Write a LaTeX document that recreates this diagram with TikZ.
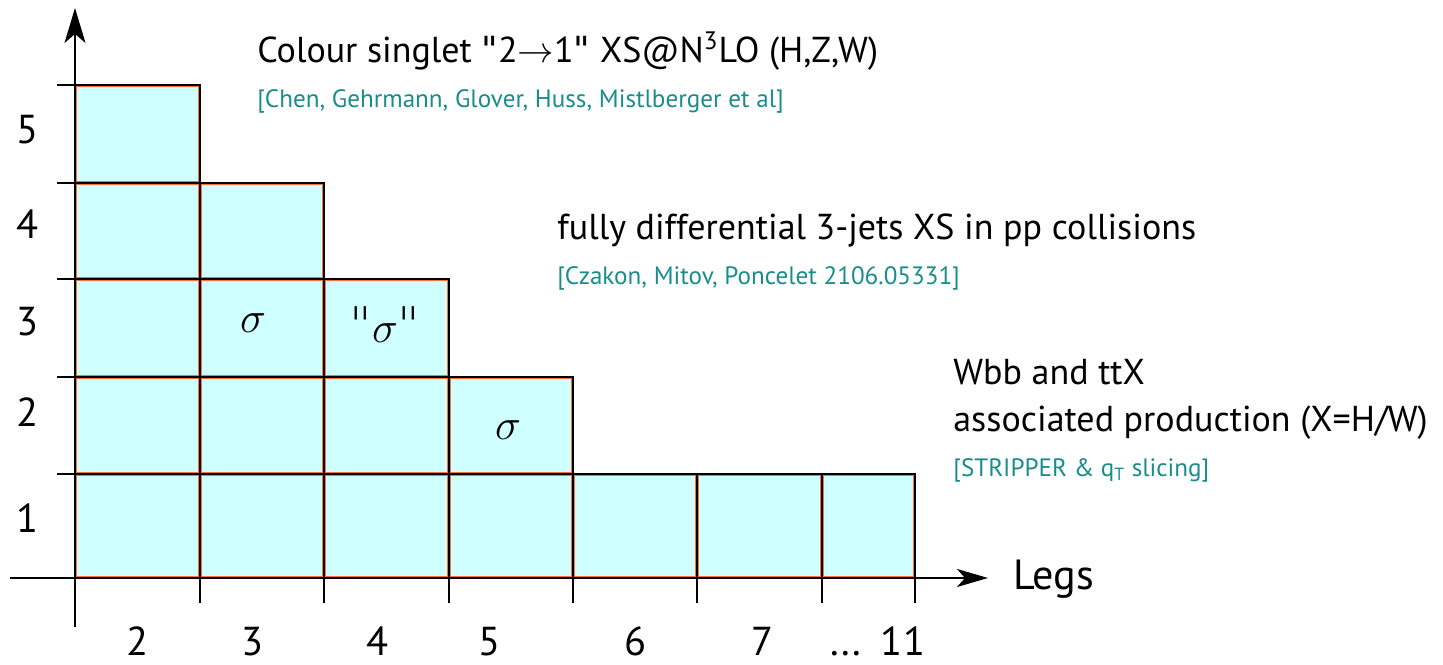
\documentclass[tikz,border=0pt]{standalone}
\usepackage{fontspec}
\setmainfont{PT Sans}
\newfontfamily\quotefont{DejaVu Sans ExtraLight}
\newfontfamily\titlequotefont{DejaVu Sans}
\usetikzlibrary{arrows.meta}
\definecolor{cellcyan}{RGB}{208,255,255}
\definecolor{cellrim}{RGB}{250,110,60}
\definecolor{citeteal}{RGB}{25,140,140}
\tikzset{
  axislab/.style={anchor=base,inner sep=0pt,font=\fontsize{23}{25}\selectfont},
  headline/.style={anchor=base west,inner sep=0pt,font=\fontsize{20.5}{22}\selectfont},
  citeline/.style={anchor=base west,inner sep=0pt,text=citeteal,font=\fontsize{14.3}{16}\selectfont},
  sig/.style={font=\fontsize{28}{30}\selectfont}
}
\newcommand{\qd}{{\quotefont\char"22}}
\newcommand{\tq}{{\titlequotefont\char"22}}
\begin{document}
\begin{tikzpicture}[x=0.02cm,y=0.02cm]
\useasboundingbox (0,0) rectangle (1443,665);
% cells: x from / x to / y from / y to
\foreach \xa/\xb/\ya/\yb in {75/200/87/191,75/200/191/288,75/200/288/386,75/200/386/482,75/200/482/580,
  200/324/87/191,200/324/191/288,200/324/288/386,200/324/386/482,
  324/449/87/191,324/449/191/288,324/449/288/386,
  449/573/87/191,449/573/191/288,
  573/697/87/191,697/822/87/191,822/915/87/191}{
  \fill[cellcyan] (\xa,\ya) rectangle (\xb,\yb);
  \draw[cellrim,line width=1.1pt] (\xa+1.5,\ya+1.5) rectangle (\xb-1.5,\yb-1.5);
  \draw[line width=0.7pt] (\xa,\ya) rectangle (\xb,\yb);
}
% axes
\draw[line width=1.1pt,-{Stealth[length=0.7cm,width=0.42cm,inset=0.18cm]}] (75,38) -- (75,657);
\draw[line width=1.1pt,-{Stealth[length=0.62cm,width=0.36cm,inset=0.16cm]}] (10,87) -- (988,87);
\foreach \y in {191,288,386,482,580} \draw[line width=0.8pt] (57,\y) -- (75,\y);
\foreach \x in {200,324,449,573,697,822,915} \draw[line width=0.8pt] (\x,87) -- (\x,62);
% axis labels
\node[axislab] (v1) at (28,132) {1};
\node[axislab] (v2) at (28,238) {2};
\node[axislab] (v3) at (28,329) {3};
\node[axislab] (v4) at (28,426) {4};
\node[axislab] (v5) at (28,521) {5};
\node[axislab] (l2) at (138,9) {2};
\node[axislab] (l3) at (253,9) {3};
\node[axislab] (l4) at (378,9) {4};
\node[axislab] (l5) at (490,9) {5};
\node[axislab] (l6) at (636,9) {6};
\node[axislab] (l7) at (763,9) {7};
\node[axislab] (ldots) at (846,9) {...};
\node[axislab] (l11) at (903,9) {11};
\node[axislab,anchor=base west,font=\fontsize{24}{26}\selectfont] (legs) at (1013,75) {Legs};
% sigma marks
\node[sig] (s3) at (253,342) {$\sigma$};
\node[sig] (s4) at (385,340) {\qd$\sigma$\qd};
\node[sig] (s5) at (508,235) {$\sigma$};
% annotations
\node[headline] (cs) at (257,602) {Colour singlet \tq2$\rightarrow$1\tq\ XS@N\textsuperscript{3}LO (H,Z,W)};
\node[citeline] (cscite) at (257,557) {[Chen, Gehrmann, Glover, Huss, Mistlberger et al]};
\node[headline] (jets) at (557,425) {fully differential 3-jets XS in pp collisions};
\node[citeline] (jetscite) at (557,380) {[Czakon, Mitov, Poncelet 2106.05331]};
\node[headline] (wbb) at (953,280) {Wbb and ttX};
\node[headline] (assoc) at (953,233) {associated production (X=H/W)};
\node[citeline] (wbbcite) at (953,188) {[STRIPPER \& q\textsubscript{T} slicing]};
\end{tikzpicture}
\end{document}
